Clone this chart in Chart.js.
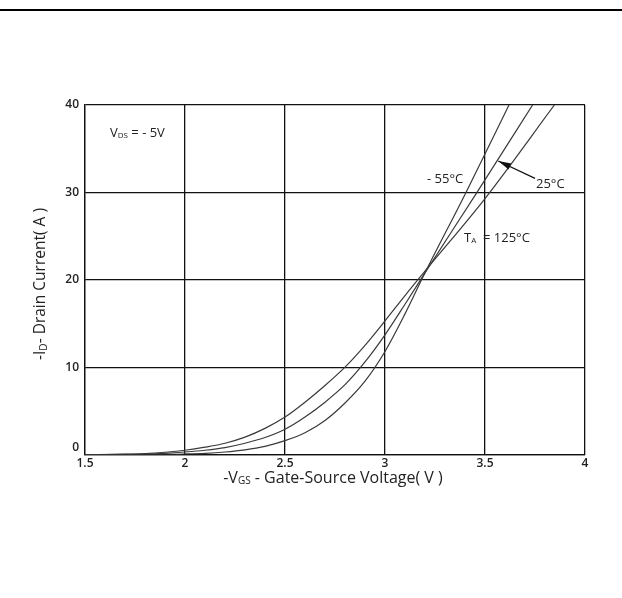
<!DOCTYPE html>
<html>
<head>
<meta charset="utf-8">
<script src="https://cdn.jsdelivr.net/npm/chart.js@4.4.1/dist/chart.umd.min.js"></script>
<style>
  html, body { margin: 0; padding: 0; background: #fff; }
  canvas { display: block; }
</style>
</head>
<body>
<canvas id="chart" width="622" height="598"></canvas>
<script>
  // ====== Data ======
  const vgs125 = [1.5, 1.7, 1.8, 1.9, 2.0, 2.1, 2.2, 2.3, 2.4, 2.5, 2.6, 2.7, 2.8, 2.9, 3.0, 3.1, 3.2, 3.5, 3.847];
  const id125  = [0, 0.05, 0.12, 0.27, 0.5, 0.85, 1.3, 2.0, 3.0, 4.3, 6.0, 7.9, 10.0, 12.5, 15.3, 18.2, 21.0, 29.3, 40];

  const vgs25 = [1.5, 1.8, 1.9, 2.0, 2.1, 2.2, 2.3, 2.4, 2.5, 2.6, 2.7, 2.8, 2.9, 3.0, 3.1, 3.2, 3.46, 3.738];
  const id25  = [0, 0.06, 0.15, 0.3, 0.5, 0.8, 1.3, 1.95, 2.9, 4.3, 6.0, 8.0, 10.6, 13.7, 17.2, 20.8, 30, 40];

  const vgsM55 = [1.5, 1.9, 2.0, 2.1, 2.2, 2.3, 2.4, 2.5, 2.6, 2.7, 2.8, 2.9, 3.0, 3.1, 3.2, 3.405, 3.62];
  const idM55  = [0, 0.02, 0.07, 0.15, 0.3, 0.55, 0.95, 1.6, 2.5, 3.9, 5.9, 8.4, 11.8, 16.1, 20.8, 30, 40];

  const xTicks = [1.5, 2, 2.5, 3, 3.5, 4];
  const yTicks = [0, 10, 20, 30, 40];

  const TEXT = "#222";
  const FONT = "'Open Sans', 'Liberation Sans', sans-serif";
  const TICK_FONT = `600 12px ${FONT}`;

  const toPoints = (xs, ys) => xs.map((x, i) => ({ x, y: ys[i] }));

  function curve(label, xs, ys) {
    return {
      label,
      data: toPoints(xs, ys),
      borderColor: "#3a3a3a",
      borderWidth: 1.2,
      pointRadius: 0,
      fill: false,
      cubicInterpolationMode: "monotone"
    };
  }

  // draw a run of [text, isSubscript] pieces starting at x
  function drawRuns(ctx, runs, x, y, size) {
    let cx = x;
    for (const [txt, sub] of runs) {
      ctx.font = `${sub ? Math.round(size * 0.62) : size}px ${FONT}`;
      ctx.fillText(txt, cx, sub ? y + size * 0.22 : y);
      cx += ctx.measureText(txt).width;
    }
    return cx - x;
  }

  function runsWidth(ctx, runs, size) {
    let w = 0;
    for (const [txt, sub] of runs) {
      ctx.font = `${sub ? Math.round(size * 0.62) : size}px ${FONT}`;
      w += ctx.measureText(txt).width;
    }
    return w;
  }

  // ====== Overlay: labels, arrow, axis titles ======
  const overlay = {
    id: "overlay",
    afterDraw(chart) {
      const { ctx, scales: { x, y } } = chart;
      ctx.save();
      ctx.textBaseline = "middle";
      ctx.textAlign = "left";

      // top rule of the page
      ctx.fillStyle = "#000";
      ctx.fillRect(0, 9, chart.width, 2);
      ctx.fillStyle = TEXT;

      // the "0" y label sits a little above the axis in the original
      ctx.font = TICK_FONT;
      ctx.textAlign = "right";
      ctx.fillText(String(yTicks[0]), x.left - 6, y.getPixelForValue(yTicks[0]) - 7);
      ctx.textAlign = "left";

      // in-plot labels
      drawRuns(ctx, [["V", false], ["DS", true], [" = - 5V", false]],
        x.getPixelForValue(1.625), y.getPixelForValue(36.8), 13);
      drawRuns(ctx, [["- 55°C", false]],
        x.getPixelForValue(3.21), y.getPixelForValue(31.45), 13);
      drawRuns(ctx, [["25°C", false]],
        x.getPixelForValue(3.755), y.getPixelForValue(30.9), 13);
      drawRuns(ctx, [["T", false], ["A", true], ["  = 125°C", false]],
        x.getPixelForValue(3.395), y.getPixelForValue(24.8), 13);

      // arrow pointing at the 25°C curve
      const tx = x.getPixelForValue(3.75), ty = y.getPixelForValue(31.6);
      const hx = x.getPixelForValue(3.566), hy = y.getPixelForValue(33.6);
      const ang = Math.atan2(hy - ty, hx - tx);
      ctx.strokeStyle = "#111";
      ctx.lineWidth = 1.2;
      ctx.beginPath();
      ctx.moveTo(tx, ty);
      ctx.lineTo(hx, hy);
      ctx.stroke();
      ctx.fillStyle = "#111";
      ctx.beginPath();
      ctx.moveTo(hx, hy);
      ctx.lineTo(hx - 13 * Math.cos(ang) + 3.2 * Math.sin(ang), hy - 13 * Math.sin(ang) - 3.2 * Math.cos(ang));
      ctx.lineTo(hx - 13 * Math.cos(ang) - 3.2 * Math.sin(ang), hy - 13 * Math.sin(ang) + 3.2 * Math.cos(ang));
      ctx.closePath();
      ctx.fill();
      ctx.fillStyle = TEXT;

      // x axis title
      const xRuns = [["-V", false], ["GS", true], [" - Gate-Source Voltage( V )", false]];
      const xw = runsWidth(ctx, xRuns, 16);
      drawRuns(ctx, xRuns, 333 - xw / 2, 478, 16);

      // y axis title (rotated)
      const yRuns = [["-I", false], ["D", true], ["- Drain Current( A )", false]];
      ctx.translate(41, 284);
      ctx.rotate(-Math.PI / 2);
      const yw = runsWidth(ctx, yRuns, 15.5);
      drawRuns(ctx, yRuns, -yw / 2, 0, 15.5);

      ctx.restore();
    }
  };

  // ====== Chart ======
  new Chart(document.getElementById("chart").getContext("2d"), {
    type: "line",
    data: {
      datasets: [
        curve("TA = 125°C", vgs125, id125),
        curve("25°C", vgs25, id25),
        curve("-55°C", vgsM55, idM55)
      ]
    },
    options: {
      responsive: false,
      devicePixelRatio: 1,
      animation: false,
      layout: { padding: { top: 105, right: 37, left: 0, bottom: 0 } },
      plugins: { legend: { display: false }, tooltip: { enabled: false } },
      scales: {
        x: {
          type: "linear",
          min: 1.5,
          max: 4,
          afterFit: (s) => { s.height = 598 - 454.6; },
          afterBuildTicks: (s) => { s.ticks = xTicks.map((v) => ({ value: v })); },
          ticks: {
            padding: 2,
            color: TEXT,
            font: { family: FONT, size: 12, weight: "600" },
            callback: (v) => String(v)
          },
          grid: { color: "#111", lineWidth: 1.3, drawTicks: false },
          border: { color: "#111", width: 1.3 }
        },
        y: {
          min: 0,
          max: 40,
          afterFit: (s) => { s.width = 85; },
          afterBuildTicks: (s) => { s.ticks = yTicks.map((v) => ({ value: v })); },
          ticks: {
            padding: 6,
            color: TEXT,
            font: { family: FONT, size: 12, weight: "600" },
            // 0 is drawn by the overlay, slightly raised
            callback: (v) => (v === 0 ? "" : String(v))
          },
          grid: { color: "#111", lineWidth: 1.3, drawTicks: false },
          border: { color: "#111", width: 1.3 }
        }
      }
    },
    plugins: [overlay]
  });
</script>
</body>
</html>
